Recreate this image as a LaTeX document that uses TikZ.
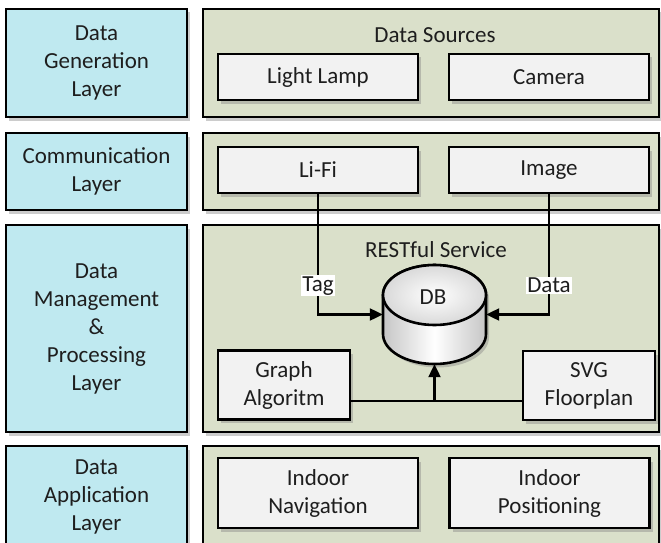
\documentclass[tikz,border=0pt]{standalone}
\usepackage{fontspec}
\setmainfont{Carlito}
\usetikzlibrary{shadows,arrows.meta}
\definecolor{layerblue}{HTML}{BFE9F0}
\definecolor{layergreen}{HTML}{DAE0CA}
\definecolor{boxgray}{HTML}{F2F2F2}
\definecolor{textgray}{HTML}{1E1E1E}

\begin{document}
\begin{tikzpicture}[x=1pt,y=-1pt,
                every node/.style={text=textgray,font=\fontsize{23}{28}\selectfont,align=center},
                softshadow/.style={drop shadow={shadow xshift=3pt,shadow yshift=-3.5pt,opacity=0.4}},
                layername/.style={draw,line width=2.6pt,fill=layerblue,softshadow,minimum width=181pt},
                layerbody/.style={draw,line width=2.6pt,fill=layergreen,softshadow,minimum width=456pt},
                unit/.style={draw,line width=2.4pt,fill=boxgray,softshadow,minimum width=200pt,minimum height=46pt},
                tool/.style={draw,line width=2.4pt,fill=boxgray,softshadow,minimum width=132pt,minimum height=69pt},
                flow/.style={line width=2.2pt,-{Triangle[length=13pt,width=12pt]}},
                tag/.style={fill=white,inner sep=1pt}]
                \useasboundingbox (0,0) rectangle (661,543);

                \node (gen) at (96.5,63) [layername,minimum height=108pt] {Data\\Generation\\Layer};
                \node (com) at (96.5,171.5) [layername,minimum height=77pt] {Communication\\Layer};
                \node (man) at (96.5,328.5) [layername,minimum height=207pt] {Data\\Management\\\&\\Processing\\Layer};
                \node (app) at (96.5,496.5) [layername,minimum height=101pt] {Data\\Application\\Layer};

                \node (genbody) at (431,63) [layerbody,minimum height=108pt] {};
                \node (combody) at (431,171.5) [layerbody,minimum height=77pt] {};
                \node (manbody) at (431,328.5) [layerbody,minimum height=207pt] {};
                \node (appbody) at (431,496.5) [layerbody,minimum height=101pt] {};

                \node (sources) at (435,35) {Data Sources};
                \node (lamp) at (318,77) [unit] {Light Lamp};
                \node (camera) at (549,77) [unit] {Camera};
                \node (lifi) at (318,170) [unit] {Li-Fi};
                \node (image) at (549,170) [unit] {Image};
                \node (rest) at (436,250) {RESTful Service};
                \node (graph) at (284,385) [tool] {Graph\\Algoritm};
                \node (svg) at (589,385.5) [tool] {SVG\\Floorplan};
                \node (nav) at (318,493) [unit,minimum height=70pt] {Indoor\\Navigation};
                \node (pos) at (549.5,493) [unit,minimum height=70pt] {Indoor\\Positioning};

                \node (db) at (434.5,314.5) [minimum width=103pt,minimum height=99pt,inner sep=0pt] {};
                \path[draw,line width=2.6pt,left color=gray!45,right color=gray!45,middle color=white,softshadow]
                (383,295) -- (383,334) arc[start angle=180,end angle=360,x radius=51.5pt,y radius=30pt]
                -- (486,295) arc[start angle=0,end angle=180,x radius=51.5pt,y radius=30pt] -- cycle;
                \draw[line width=2.6pt,inner color=white,outer color=gray!30] (434.5,295) ellipse [x radius=51.5pt,y radius=30pt];
                \node at (433,297) {DB};

                \coordinate (join) at (434.5,401);
                \draw[flow] (lifi.south) |- node[tag,pos=0.38] {Tag} (db.west);
                \draw[flow] (image.south) |- node[tag,pos=0.38] {Data} (db.east);
                \draw[line width=2.2pt] (graph.east |- join) -- (svg.west |- join);
                \draw[flow] (join) -- (db.south);
\end{tikzpicture}
\end{document}
